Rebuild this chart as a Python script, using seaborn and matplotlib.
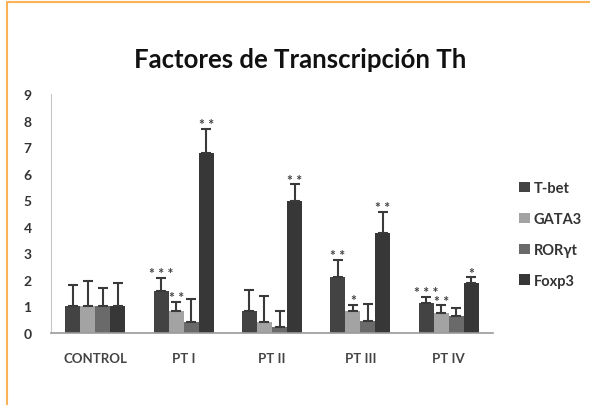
import matplotlib
matplotlib.use('Agg')
import matplotlib.pyplot as plt
from matplotlib.lines import Line2D
import numpy as np
import pandas as pd
import seaborn as sns

# data
groups = ['CONTROL', 'PT I', 'PT II', 'PT III', 'PT IV']
factors = ['T-bet', 'GATA3', 'RORγt', 'Foxp3']
tbet = [1.0, 1.57, 0.82, 2.09, 1.14]
gata3 = [1.0, 0.82, 0.40, 0.82, 0.76]
roryt = [1.0, 0.40, 0.21, 0.44, 0.65]
foxp3 = [1.0, 6.76, 4.97, 3.76, 1.87]
tbet_err = [0.82, 0.50, 0.81, 0.67, 0.21]
gata3_err = [0.96, 0.36, 1.00, 0.23, 0.28]
roryt_err = [0.68, 0.88, 0.61, 0.64, 0.30]
foxp3_err = [0.87, 0.94, 0.63, 0.81, 0.22]
tbet_sig = ['', '***', '', '**', '***']
gata3_sig = ['', '**', '', '*', '**']
roryt_sig = ['', '', '', '', '']
foxp3_sig = ['', '**', '**', '**', '*']

values = [tbet, gata3, roryt, foxp3]
errors = [tbet_err, gata3_err, roryt_err, foxp3_err]
stars = [tbet_sig, gata3_sig, roryt_sig, foxp3_sig]
colors = ['#434343', '#a3a3a3', '#6a6a6a', '#373737']

rows = []
for f, vals in zip(factors, values):
    for g, v in zip(groups, vals):
        rows.append({'grupo': g, 'factor': f, 'valor': v})
df = pd.DataFrame(rows)

sns.set_style('white')
plt.rcParams['font.family'] = ['Lato', 'DejaVu Sans']

fig = plt.figure(figsize=(5.9, 4.06), dpi=100)
ax = fig.add_axes([51/590, 72/406, 442/590, 239/406])

sns.barplot(data=df, x='grupo', y='valor', hue='factor', palette=colors,
            order=groups, hue_order=factors, width=0.68, errorbar=None,
            saturation=1, ax=ax, edgecolor='none')

for cont, errs, sig in zip(ax.containers, errors, stars):
    for bar, e, s in zip(cont, errs, sig):
        xc = bar.get_x() + bar.get_width() / 2
        h = bar.get_height()
        ax.errorbar(xc, h, yerr=[[0], [e]], fmt='none', ecolor='#3a3a3a',
                    elinewidth=1.5, capsize=3.5, capthick=1.5)
        if s:
            ax.text(xc, h + e - 0.05, ' '.join(s), ha='center', va='bottom',
                    fontsize=10, fontweight='bold', color='#404040')

ax.set_ylim(0, 9)
ax.set_xlim(-0.5, 4.5)
ax.set_yticks(range(10))
ax.set_xlabel('')
ax.set_ylabel('')
ax.tick_params(axis='y', length=0, pad=14, labelsize=10, labelcolor='#333333')
ax.tick_params(axis='x', length=0, pad=14, labelsize=9.5, labelcolor='#444444')
for lab in ax.get_yticklabels() + ax.get_xticklabels():
    lab.set_fontweight('bold')
for side in ['top', 'right']:
    ax.spines[side].set_visible(False)
ax.spines['left'].set_color('#c8c8c8')
ax.spines['bottom'].set_color('#9a9a9a')
ax.spines['bottom'].set_linewidth(1.2)

leg = ax.legend(loc='upper left', bbox_to_anchor=(1.03, 0.69), frameon=False,
                fontsize=10.5, handlelength=0.7, handleheight=0.7,
                handletextpad=0.3, labelspacing=1.15)
for t in leg.get_texts():
    t.set_fontweight('bold')
    t.set_color('#333333')

fig.text(300, 346, 'Factores de Transcripción Th', transform=None,
         ha='center', va='center', fontsize=18.5, fontweight='bold', color='#111111')

# orange frame on top and left
fig.add_artist(Line2D([7/590, 7/590], [0, 403/406], color='#fbb35a', lw=1.5))
fig.add_artist(Line2D([7/590, 1], [403/406, 403/406], color='#fbb35a', lw=1.5))

fig.savefig('out.png', dpi=100)
